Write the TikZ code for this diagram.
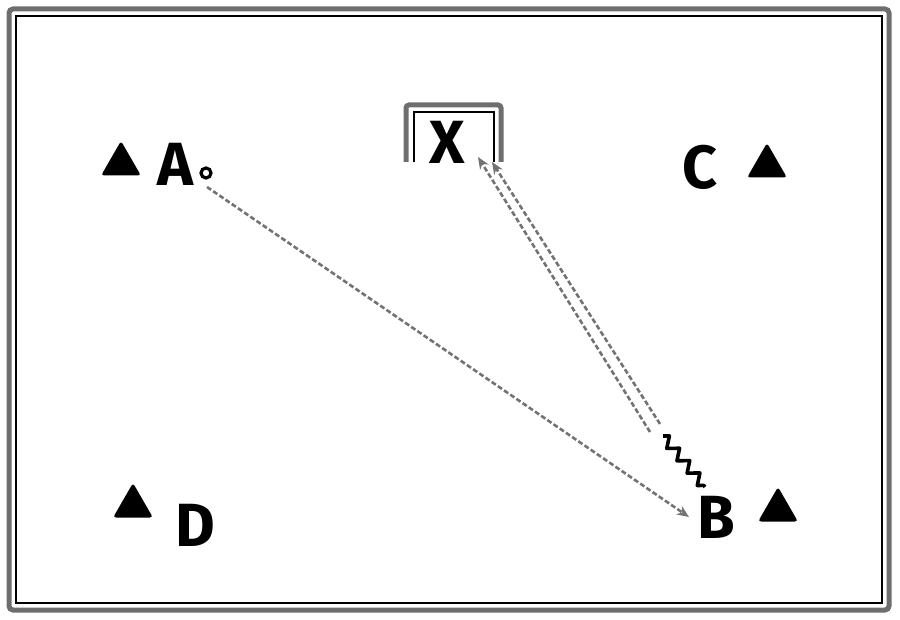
\documentclass[tikz,border=0pt]{standalone}
\usepackage{fontspec}
\setmainfont{Fira Sans}
\usetikzlibrary{arrows.meta,shapes.geometric,decorations.pathmorphing}
\definecolor{framegray}{RGB}{110,110,110}
\definecolor{passgray}{RGB}{115,115,115}

\begin{document}
\begin{tikzpicture}[x=1pt, y=-1pt,
    cone/.style={regular polygon, regular polygon sides=3, fill=black, minimum size=46pt, inner sep=0pt, rounded corners=3pt},
    player/.style={font=\fontsize{61}{64}\selectfont\bfseries, inner sep=0pt},
    pass/.style={draw=passgray, line width=2.6pt, dash pattern=on 5pt off 2.5pt, -{Stealth[length=12pt, width=10pt, fill=black]}},
    run/.style={draw=black, line width=3.6pt, line join=round, decorate, decoration={zigzag, segment length=16pt, amplitude=5pt}},
    >=Stealth
]
\useasboundingbox (0,0) rectangle (900,620);
\draw[framegray, line width=5pt, rounded corners=4pt] (9,9) rectangle (889,610);
\draw[black, line width=2pt] (16,16) rectangle (882,603);

\draw[framegray, line width=5pt, rounded corners=3pt] (406,162) -- (406,105) -- (501,105) -- (501,162);
\draw[black, line width=1.6pt] (414,162) -- (414,112) -- (494,112) -- (494,162);

\node[cone] (coneA) at (121,164) {};
\node[cone] (coneC) at (767,166) {};
\node[cone] (coneD) at (133,506) {};
\node[cone] (coneB) at (778,510) {};

\node[player] (labA) at (175,164) {A};
\node[player] (labX) at (447,142) {X};
\node[player] (labC) at (700,167) {C};
\node[player] (labD) at (195,525) {D};
\node[player] (labB) at (716,517) {B};

\node[draw, circle, line width=3.2pt, fill=white, minimum size=10pt, inner sep=0pt] (ballA) at (206,173) {};

\coordinate (kickA) at (207,187);
\coordinate (runB) at (663,436);
\coordinate (endB) at (705,487);
\coordinate (backL) at (650,432);
\coordinate (backR) at (660,424);
\coordinate (tipL) at (478,157);
\coordinate (tipR) at (492,162);

\draw[pass] (kickA) -- ([xshift=-8pt]labB.west);
\draw[pass] (backL) -- (tipL);
\draw[pass] (backR) -- (tipR);
\draw[run] (runB) -- (endB);
\end{tikzpicture}
\end{document}
